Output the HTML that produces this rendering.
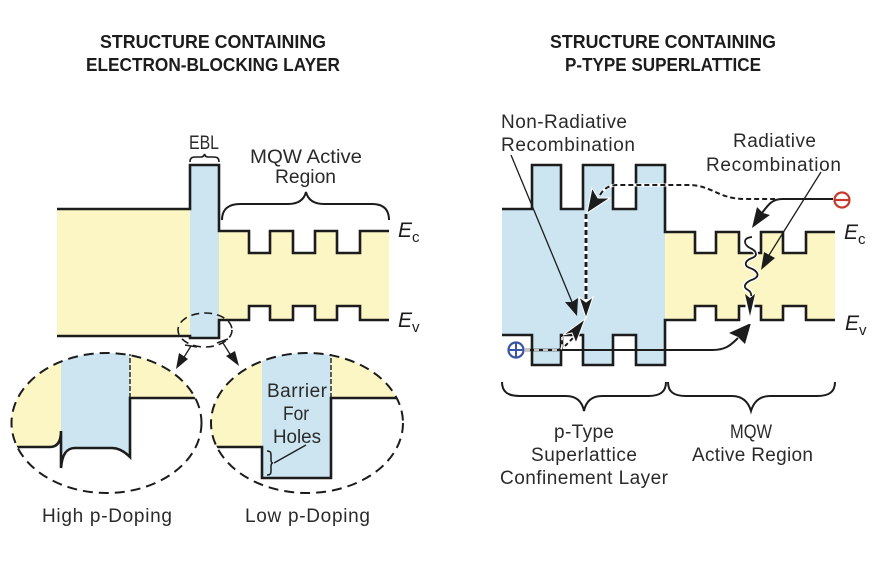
<!DOCTYPE html>
<html>
<head>
<meta charset="utf-8">
<style>
html,body{margin:0;padding:0;background:#fff}
svg{display:block}
text{font-family:"Liberation Sans",sans-serif;font-size:19px;fill:#2a2a2a}
.t{font-weight:bold;font-size:18px;fill:#1c1c1c}
.e{font-style:italic;font-size:21px;fill:#1c1c1c}
.s{font-size:15px;fill:#1c1c1c}
.l{fill:none;stroke:#1c1c1c;stroke-width:2.6}
.d{fill:none;stroke:#1c1c1c;stroke-width:2;stroke-dasharray:10 6}
.b{fill:none;stroke:#1c1c1c;stroke-width:2}
.a{fill:none;stroke:#1c1c1c;stroke-width:1.3}
</style>
</head>
<body>
<svg width="880" height="562" viewBox="0 0 880 562" xmlns="http://www.w3.org/2000/svg">
<defs>
<clipPath id="c1"><ellipse cx="106.5" cy="423" rx="95" ry="70"/></clipPath>
<clipPath id="c2"><ellipse cx="307" cy="423" rx="96" ry="70"/></clipPath>
</defs>

<!-- Titles -->
<text class="t" x="100" y="48" textLength="226" lengthAdjust="spacingAndGlyphs">STRUCTURE CONTAINING</text>
<text class="t" x="86" y="71" textLength="254" lengthAdjust="spacingAndGlyphs">ELECTRON-BLOCKING LAYER</text>
<text class="t" x="550" y="48" textLength="226" lengthAdjust="spacingAndGlyphs">STRUCTURE CONTAINING</text>
<text class="t" x="565" y="71" textLength="196" lengthAdjust="spacingAndGlyphs">P-TYPE SUPERLATTICE</text>

<!-- LEFT main band -->
<rect x="57" y="209" width="134" height="127" fill="#fbf6c3"/>
<path d="M219 231H249V253H270V231H293V253H315V231H337V253H360V231H389V320H360V306H337V320H315V306H293V320H270V306H249V320H219Z" fill="#fbf6c3"/>
<rect x="190" y="165" width="29" height="173" fill="#cce5f1"/>
<path class="l" d="M57 209H190V165H219V231H249V253H270V231H293V253H315V231H337V253H360V231H389"/>
<path class="l" d="M57 336H190V338H219V320H249V306H270V320H293V306H315V320H337V306H360V320H389"/>

<text x="189" y="149" textLength="30" lengthAdjust="spacingAndGlyphs">EBL</text>
<path class="b" style="stroke-width:1.6" d="M190 162C190 157 193 157 197 157H201C203 157 204 156 204.500 154C205 156 206 157 208 157H212C216 157 219 157 219 162"/>
<text x="250" y="163" textLength="112" lengthAdjust="spacingAndGlyphs">MQW Active</text>
<text x="275" y="183" textLength="61" lengthAdjust="spacingAndGlyphs">Region</text>
<path class="b" d="M222 220C222 208 230 204 240 204H288C298 204 304 200 306 192C308 200 314 204 324 204H372C382 204 389 208 389 220"/>
<text class="e" x="398" y="237">E</text><text class="s" x="412" y="242">c</text>
<text class="e" x="398" y="327">E</text><text class="s" x="412" y="332">v</text>

<!-- zoom ellipses + arrows -->
<ellipse class="b" cx="205" cy="330" rx="27" ry="17" stroke-dasharray="8 5" style="stroke-width:1.6"/>
<path class="a" d="M191 346L181 362"/><path d="M185 345L197 347" stroke="#1c1c1c" stroke-width="1.5"/>
<path d="M176 369L179 353L188 359Z" fill="#1c1c1c"/>
<path class="a" d="M223 343L233 359"/><path d="M217 343L228 339" stroke="#1c1c1c" stroke-width="1.5"/>
<path d="M239 366L226 356L235 351Z" fill="#1c1c1c"/>

<!-- High p-Doping -->
<g clip-path="url(#c1)">
<path d="M0 340H61V431L61 468C62 455 66 448 75 448H112C120 448 126 453 130 457V340Z" fill="#cce5f1"/>
<path d="M0 340H61V431C61 441 58 447 50 447H0Z" fill="#fbf6c3"/>
<rect x="130" y="340" width="80" height="58" fill="#fbf6c3"/>
<path class="l" d="M0 447H50C58 447 61 441 61 431V468C62 455 66 448 75 448H112C120 448 126 453 130 457V398H210"/>
</g>
<path d="M130 398V354" stroke="#1c1c1c" stroke-width="1.4" stroke-dasharray="5 2" fill="none"/>
<ellipse class="d" cx="106.500" cy="423" rx="95" ry="70"/>

<!-- Low p-Doping -->
<g clip-path="url(#c2)">
<rect x="205" y="340" width="57" height="107" fill="#fbf6c3"/>
<rect x="262" y="340" width="69" height="138" fill="#cce5f1"/>
<rect x="331" y="340" width="80" height="58" fill="#fbf6c3"/>
<path class="l" d="M205 447H262V478H331V398H411"/>
</g>
<path d="M331 398V354" stroke="#1c1c1c" stroke-width="1.4" stroke-dasharray="5 2" fill="none"/>
<ellipse class="d" cx="307" cy="423" rx="96" ry="70"/>
<text x="267" y="397" textLength="60">Barrier</text>
<text x="283" y="420" textLength="26" lengthAdjust="spacingAndGlyphs">For</text>
<text x="273" y="443" textLength="48" lengthAdjust="spacingAndGlyphs">Holes</text>
<path class="b" style="stroke-width:1.5" d="M267 451C271 451 271 453 271 456V460C271 462 272 463 273 463C272 463 271 464 271 466V470C271 473 271 475 267 475"/>
<path class="a" d="M274 463L306 445"/>

<text x="42" y="522" textLength="130">High p-Doping</text>
<text x="245" y="522" textLength="125">Low p-Doping</text>

<!-- RIGHT main band -->
<path d="M665 232H695V253H716V232H739V253H761V232H783V253H806V232H835V320H806V306H783V320H761V306H739V320H716V306H695V320H665Z" fill="#fbf6c3"/>
<path d="M502 209H532V165H561V209H583V165H613V209H636V165H665V365H636V335H613V365H583V335H561V365H532V335H502Z" fill="#cce5f1"/>
<path class="l" d="M502 209H532V165H561V209H583V165H613V209H636V165H665V232H695V253H716V232H739V253H761V232H783V253H806V232H835"/>
<path class="l" d="M502 335H532V365H561V335H583V365H613V335H636V365H665V320H695V306H716V320H739V306H761V320H783V306H806V320H835"/>

<text x="501" y="128" textLength="126">Non-Radiative</text>
<text x="501" y="151" textLength="134">Recombination</text>
<text x="733" y="147" textLength="83">Radiative</text>
<text x="706" y="171" textLength="135">Recombination</text>
<text class="e" x="844" y="239">E</text><text class="s" x="858" y="244">c</text>
<text class="e" x="845" y="330">E</text><text class="s" x="859" y="335">v</text>

<!-- Non-radiative arrow -->
<path class="a" d="M511 155L572 302"/>
<path d="M577 316L565 302L572 302L578 298Z" fill="#1c1c1c"/>

<!-- Hole line -->
<path d="M561 350H712C725 350 730 346 738 338" fill="none" stroke="#1c1c1c" stroke-width="2"/>
<path d="M751 323L745 344L738 337L729 333Z" fill="#1c1c1c"/>
<path d="M525 350H558C561 350 562 348 562 345V337" fill="none" stroke="#1c1c1c" stroke-width="2.600"/>
<path d="M525 350H558C561 350 562 348 562 345V337" fill="none" stroke="#fff" stroke-width="1.600" stroke-dasharray="5 4"/>
<path d="M565 346L574 337" fill="none" stroke="#1c1c1c" stroke-width="2" stroke-dasharray="4 3"/>
<path d="M585 319L576 343L572 333L563 335Z" fill="#1c1c1c" stroke="#fff" stroke-width="1"/>

<!-- Vertical dashed -->
<path d="M586 214V304" fill="none" stroke="#fff" stroke-width="4"/>
<path d="M586 214V304" fill="none" stroke="#1c1c1c" stroke-width="3" stroke-dasharray="5 3"/>
<path d="M586 318L579 297L586 302L593 297Z" fill="#1c1c1c" stroke="#fff" stroke-width="1"/>
<path d="M587 213L592 188L598 198L610 198Z" fill="#1c1c1c" stroke="#fff" stroke-width="1"/>

<!-- Electron dashed path -->
<path d="M600 195C604 188 610 185 618 185H688C712 185 718 199 745 199H778" fill="none" stroke="#fff" stroke-width="3"/>
<path d="M600 195C604 188 610 185 618 185H688C712 185 718 199 745 199H778" fill="none" stroke="#1c1c1c" stroke-width="2" stroke-dasharray="5 3"/>
<path d="M833 199H782C772 199 768 205 762 213" fill="none" stroke="#1c1c1c" stroke-width="2"/>
<path d="M752 228L757 207L763 213L770 215Z" fill="#1c1c1c"/>

<!-- Minus / plus -->
<circle cx="842" cy="200" r="7.500" fill="#fff" stroke="#c8392b" stroke-width="2.200"/>
<path d="M835 200H849" stroke="#c8392b" stroke-width="2.200"/>
<circle cx="516" cy="350" r="7.500" fill="#fff" stroke="#3a55a4" stroke-width="2.200"/>
<path d="M509 350H523M516 343V357" stroke="#3a55a4" stroke-width="2"/>

<!-- Wavy -->
<path d="M752 237C742 238 744 245 750 248C757 251 758 256 752 258C744 261 744 266 750 268C758 271 760 276 754 279C745 282 742 287 748 290C753 293 751 298 750 303" fill="none" stroke="#fff" stroke-width="4.500"/>
<path d="M752 237C742 238 744 245 750 248C757 251 758 256 752 258C744 261 744 266 750 268C758 271 760 276 754 279C745 282 742 287 748 290C753 293 751 298 750 303" fill="none" stroke="#1c1c1c" stroke-width="1.800"/>
<path d="M750 296V324" stroke="#fff" stroke-width="9" fill="none"/>
<path d="M750 316L745 294L750 298L755 294Z" fill="#1c1c1c"/>

<!-- Radiative arrow -->
<path class="a" d="M821 172L766 260"/>
<path d="M761 270L764 252L775 258Z" fill="#1c1c1c"/>

<!-- Bottom braces -->
<path class="b" d="M502 382C502 392 508 396 520 396H566C576 396 582 401 584 411C586 401 592 396 602 396H648C660 396 666 392 666 382"/>
<path class="b" d="M668 382C668 392 674 396 686 396H732C742 396 748 401 751 411C754 401 760 396 770 396H817C829 396 835 392 835 382"/>

<text x="554" y="438" textLength="60">p-Type</text>
<text x="531" y="461" textLength="106">Superlattice</text>
<text x="500" y="484" textLength="168">Confinement Layer</text>
<text x="730" y="438" textLength="42" lengthAdjust="spacingAndGlyphs">MQW</text>
<text x="692" y="461" textLength="121">Active Region</text>
</svg>
</body>
</html>
